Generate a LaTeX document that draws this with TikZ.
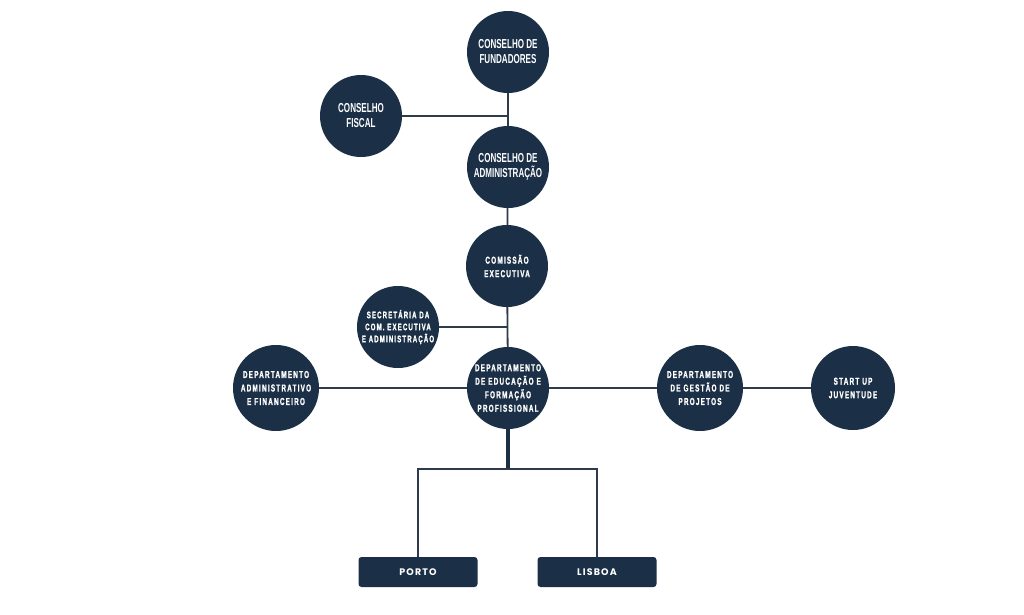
\documentclass[tikz,border=0pt]{standalone}
\usepackage{fontspec}
\setmainfont{Liberation Sans}
\newfontfamily\circfont[FakeStretch=0.62]{Liberation Sans}
\newfontfamily\circfontsp[FakeStretch=0.64,LetterSpace=12,FakeBold=1.2]{Liberation Sans}
\newfontfamily\boxfont[LetterSpace=12]{Poppins}
\definecolor{navy}{HTML}{1B2F47}
\definecolor{wire}{HTML}{2E3B4B}

\begin{document}
\begin{tikzpicture}[x=1pt, y=-1pt,
    orgcirc/.style = {circle, fill=navy, text=white, minimum size=82pt, inner sep=0pt, align=center},
    bigtext/.style = {font=\circfont\bfseries\fontsize{13}{15}\selectfont},
    smalltext/.style = {font=\circfontsp\bfseries\fontsize{10}{13.5}\selectfont},
    orgbox/.style = {rectangle, rounded corners=3pt, fill=navy, text=white, minimum width=119pt, minimum height=30pt,
        font=\boxfont\bfseries\fontsize{9.5}{12}\selectfont},
    link/.style = {draw=wire, line width=1.8pt},
    trunk/.style = {draw=navy, line width=3.2pt},
]

\useasboundingbox (0,0) rectangle (1024,614);

% top of the chart
\node[orgcirc, bigtext] (fund) at (508,52) {CONSELHO DE\\FUNDADORES};
\node[orgcirc, bigtext] (fiscal) at (361,116) {CONSELHO\\FISCAL};
\node[orgcirc, bigtext] (adm) at (508,167) {CONSELHO DE\\ADMINISTRAÇÃO};
\node[orgcirc, smalltext] (comex) at (507,266) {COMISSÃO\\EXECUTIVA};
\node[orgcirc, smalltext, font=\circfontsp\bfseries\fontsize{9.5}{12}\selectfont] (secr) at (398,327) {SECRETÁRIA DA\\COM. EXECUTIVA\\E ADMINISTRAÇÃO};

% departments
\node[orgcirc, smalltext] (dedu) at (508,388) {DEPARTAMENTO\\DE EDUCAÇÃO E\\FORMAÇÃO\\PROFISSIONAL};
\node[orgcirc, smalltext, minimum size=86pt] (dadm) at (276,388) {DEPARTAMENTO\\ADMINISTRATIVO\\E FINANCEIRO};
\node[orgcirc, smalltext, minimum size=86pt] (dgest) at (700,388) {DEPARTAMENTO\\DE GESTÃO DE\\PROJETOS};
\node[orgcirc, smalltext, minimum size=84pt] (startup) at (853,388) {START UP\\JUVENTUDE};

% offices
\node[orgbox] (porto) at (418,572) {PORTO};
\node[orgbox] (lisboa) at (597,572) {LISBOA};

% vertical line
\draw[link] (fund) -- (adm);
\draw[link] (adm) -- (comex);
\draw[link] (comex) -- (dedu);

% side lines
\draw[link] (fiscal) -- (fiscal -| fund);
\draw[link] (secr) -- (secr -| comex);
\draw[link] (dadm) -- (dedu);
\draw[link] (dedu) -- (dgest);
\draw[link] (dgest) -- (startup);

% split to the offices
\coordinate (split) at (508,469);
\draw[trunk] (dedu) -- (split);
\draw[link] (porto.north) |- (split) -| (lisboa.north);
\end{tikzpicture}
\end{document}
